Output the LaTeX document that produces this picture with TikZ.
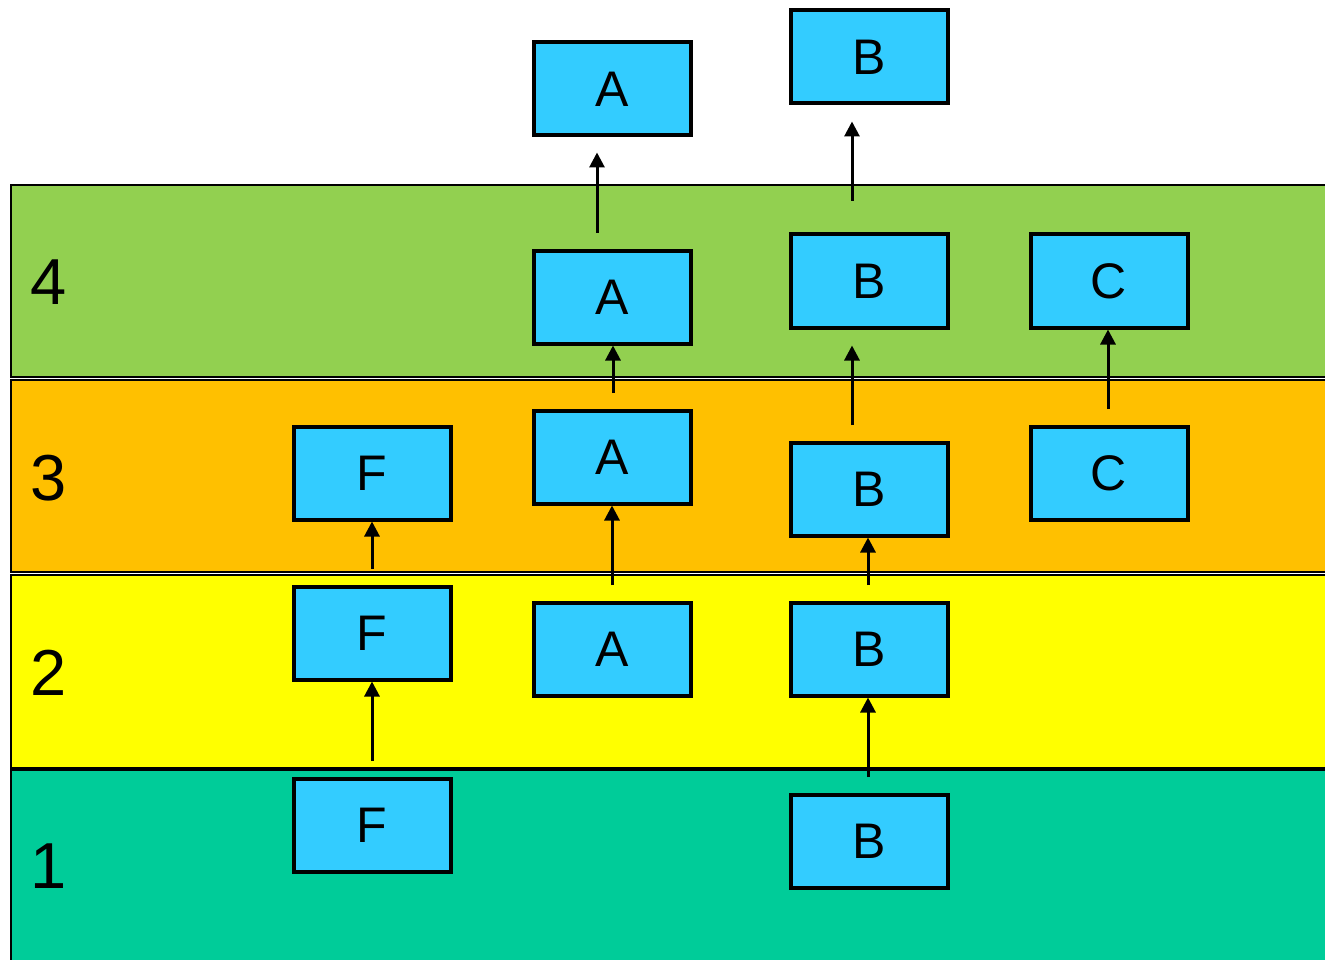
\documentclass[tikz,border=0pt]{standalone}
\usepackage{fontspec}
\setmainfont{Liberation Sans}
\usetikzlibrary{arrows.meta}
\definecolor{bandfour}{HTML}{92D050}
\definecolor{bandthree}{HTML}{FFC000}
\definecolor{bandtwo}{HTML}{FFFF00}
\definecolor{bandone}{HTML}{00CC99}
\definecolor{boxblue}{HTML}{33CCFF}
\tikzset{
  band/.style={draw=black, line width=2pt},
  layerlabel/.style={font=\fontsize{65}{70}\selectfont, inner sep=0pt},
  blk/.style={draw=black, fill=boxblue, line width=4pt, minimum width=157pt, minimum height=93pt, inner sep=0pt, font=\fontsize{50}{54}\selectfont},
  arr/.style={line width=3pt, -{Triangle[length=15pt,width=15pt]}}
}
\begin{document}
\begin{tikzpicture}[x=1pt,y=-1pt]
\useasboundingbox (0,0) rectangle (1325,960);
\clip (0,0) rectangle (1325,960);
\fill[white] (0,0) rectangle (1325,960);
% bands
\draw[band, fill=bandfour]  (11,185) rectangle (1345,377);
\draw[band, fill=bandthree] (11,380) rectangle (1345,572);
\draw[band, fill=bandtwo]   (11,575) rectangle (1345,768);
\draw[band, fill=bandone]   (11,770) rectangle (1345,990);
% layer labels
\node[layerlabel] (L4) at (49,282) {4};
\node[layerlabel] (L3) at (49,478) {3};
\node[layerlabel] (L2) at (49,673) {2};
\node[layerlabel] (L1) at (49,866) {1};
% boxes
\node[blk] (At) at (612,89) {A};
\node[blk] (Bt) at (869,57) {B};
\node[blk] (A4) at (612,297) {A};
\node[blk] (B4) at (869,281) {B};
\node[blk] (C4) at (1109,281) {C};
\node[blk] (F3) at (372,473) {F};
\node[blk] (A3) at (612,457) {A};
\node[blk] (B3) at (869,489) {B};
\node[blk] (C3) at (1109,473) {C};
\node[blk] (F2) at (372,633) {F};
\node[blk] (A2) at (612,649) {A};
\node[blk] (B2) at (869,649) {B};
\node[blk] (F1) at (372,825) {F};
\node[blk] (B1) at (869,841) {B};
% arrow start points
\coordinate (sAt) at (597,233);
\coordinate (sBt) at (852,201);
\coordinate (sA4) at (613,393);
\coordinate (sB4) at (852,425);
\coordinate (sC4) at (1108,409);
\coordinate (sF3) at (372,569);
\coordinate (sA3) at (612,585);
\coordinate (sB3) at (868,585);
\coordinate (sF2) at (372,761);
\coordinate (sB2) at (868,777);
% arrows
\draw[arr, shorten >=15pt] (sAt) -- (sAt |- At.south);
\draw[arr, shorten >=16pt] (sBt) -- (sBt |- Bt.south);
\draw[arr] (sA4) -- (sA4 |- A4.south);
\draw[arr, shorten >=16pt] (sB4) -- (sB4 |- B4.south);
\draw[arr] (sC4) -- (sC4 |- C4.south);
\draw[arr] (sF3) -- (sF3 |- F3.south);
\draw[arr] (sA3) -- (sA3 |- A3.south);
\draw[arr] (sB3) -- (sB3 |- B3.south);
\draw[arr] (sF2) -- (sF2 |- F2.south);
\draw[arr] (sB2) -- (sB2 |- B2.south);
\end{tikzpicture}
\end{document}
